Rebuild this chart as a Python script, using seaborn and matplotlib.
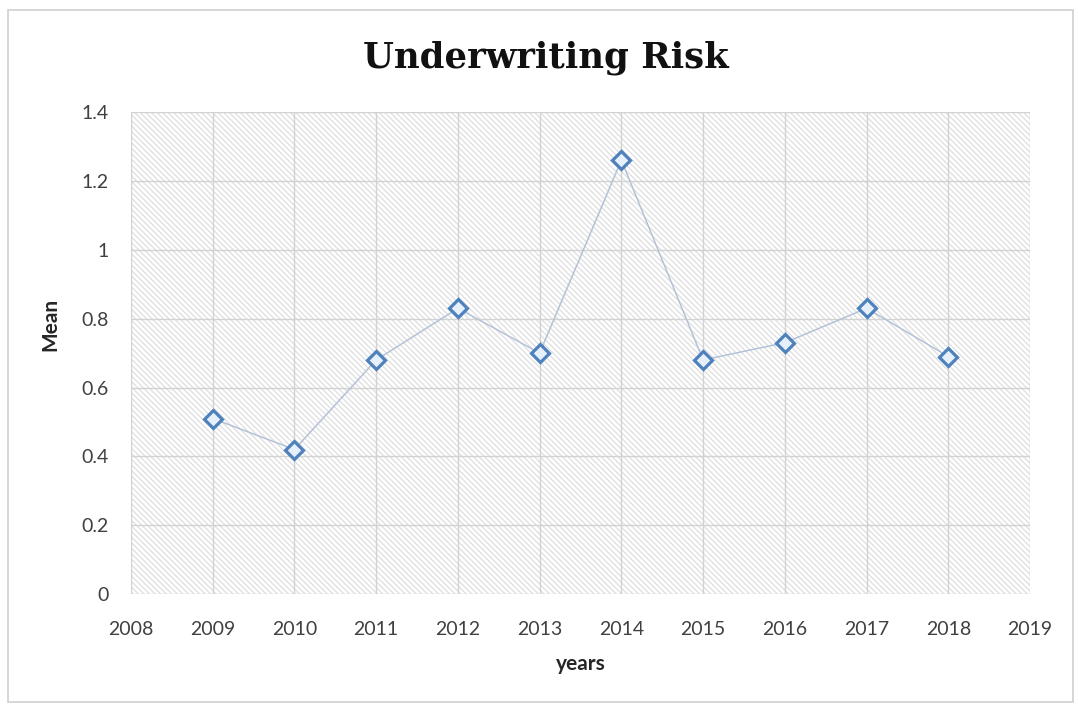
import matplotlib
matplotlib.use("Agg")
import matplotlib.pyplot as plt
from matplotlib.patches import Rectangle
import seaborn as sns
import pandas as pd

years = [2009, 2010, 2011, 2012, 2013, 2014, 2015, 2016, 2017, 2018]
mean_values = [0.51, 0.42, 0.68, 0.83, 0.70, 1.26, 0.68, 0.73, 0.83, 0.69]
x_ticks = list(range(2008, 2020))
y_ticks = [0, 0.2, 0.4, 0.6, 0.8, 1.0, 1.2, 1.4]
y_tick_labels = ["0", "0.2", "0.4", "0.6", "0.8", "1", "1.2", "1.4"]

df = pd.DataFrame({"years": years, "Mean": mean_values})

sns.set_theme(style="white")
plt.rcParams["font.family"] = ["Lato", "DejaVu Sans"]
plt.rcParams["hatch.linewidth"] = 0.9

fig = plt.figure(figsize=(10.78, 7.04), dpi=100)
ax = fig.add_axes([0.1215, 0.156, 0.834, 0.685])

# hatched plot-area background
ax.add_patch(Rectangle((0, 0), 1, 1, transform=ax.transAxes, facecolor="white",
                       edgecolor="#dedede", hatch="\\\\\\\\\\\\", linewidth=0, zorder=0))

sns.lineplot(data=df, x="years", y="Mean", ax=ax, color="#b4c2d8", linewidth=1.1,
             marker="D", markersize=9, markerfacecolor="#e6f0fa",
             markeredgecolor="#4f81bd", markeredgewidth=2.3, zorder=3)

ax.set_xlim(2008, 2019)
ax.set_ylim(0, 1.4)
ax.set_xticks(x_ticks)
ax.set_xticklabels([str(y) for y in x_ticks])
ax.set_yticks(y_ticks)
ax.set_yticklabels(y_tick_labels)
ax.tick_params(axis="both", labelsize=14, colors="#404040", length=0)
ax.tick_params(axis="x", pad=19)
ax.tick_params(axis="y", pad=16)
ax.grid(True, color="#d2d2d2", linewidth=1, zorder=1)
ax.set_axisbelow(True)
for s in ax.spines.values():
    s.set_visible(False)

ax.set_xlabel("years", fontsize=15, fontweight="bold", color="#262626")
ax.set_ylabel("Mean", fontsize=15, fontweight="bold", color="#262626")
ax.xaxis.set_label_coords(0.5, -0.125)
ax.yaxis.set_label_coords(-0.079, 0.56)

fig.text(0.5065, 0.918, "Underwriting Risk", fontsize=25.5, fontweight="bold",
         family="DejaVu Serif", color="#111111", ha="center", va="center")

# outer chart frame
fig.patches.append(Rectangle((0.007, 0.003), 0.988, 0.983, transform=fig.transFigure,
                             fill=False, edgecolor="#d0d0d0", linewidth=1.2))

fig.savefig("out.png", dpi=100, facecolor="white")
